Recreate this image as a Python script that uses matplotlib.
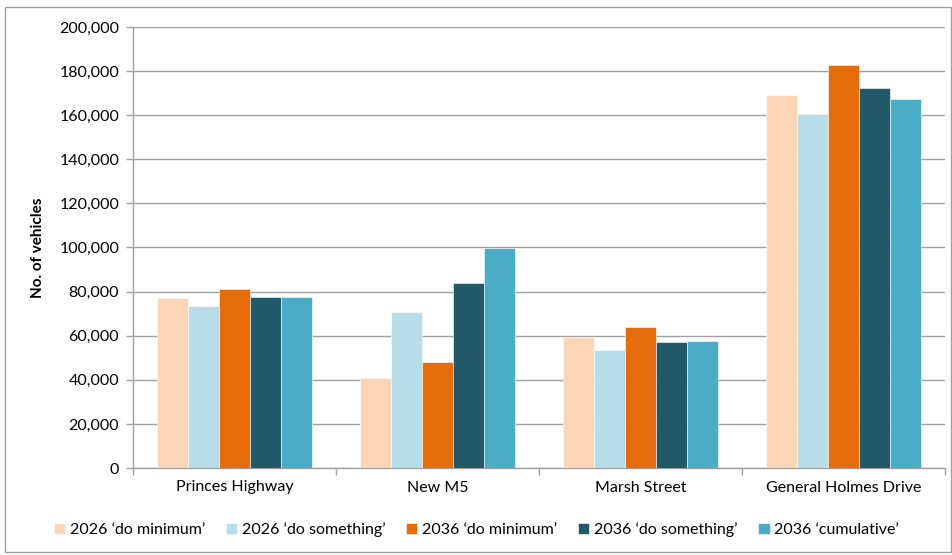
import matplotlib
matplotlib.use("Agg")
import matplotlib.pyplot as plt
import numpy as np
from matplotlib.patches import Rectangle
from matplotlib.ticker import FuncFormatter, MultipleLocator

plt.rcParams['font.family'] = ['Lato', 'DejaVu Sans']

categories = ["Princes Highway", "New M5", "Marsh Street", "General Holmes Drive"]
series_names = ["2026 \u2018do minimum\u2019", "2026 \u2018do something\u2019",
                "2036 \u2018do minimum\u2019", "2036 \u2018do something\u2019",
                "2036 \u2018cumulative\u2019"]
dm_2026 = [77100, 41000, 59400, 169300]
ds_2026 = [73600, 70600, 53500, 160500]
dm_2036 = [81300, 47900, 64100, 182600]
ds_2036 = [77700, 83800, 57100, 172500]
cum_2036 = [77700, 99800, 57700, 167300]
series = [dm_2026, ds_2026, dm_2036, ds_2036, cum_2036]
colors = ["#FBD5B5", "#B7DDE8", "#E46C0A", "#215968", "#4BACC6"]

fig = plt.figure(figsize=(9.53, 5.55), dpi=100)
ax = fig.add_axes([133/953, 1-468/555, (945-133)/953, (468-27)/555])

x = np.arange(len(categories))
bw = 0.153
for i, (vals, c) in enumerate(zip(series, colors)):
    ax.bar(x + (i - 2) * bw, vals, width=bw, color=c, label=series_names[i],
           edgecolor='white', linewidth=0.4, zorder=3)

ax.set_xlim(-0.5, len(categories) - 0.5)
ax.set_ylim(0, 200000)
ax.yaxis.set_major_locator(MultipleLocator(20000))
ax.yaxis.set_major_formatter(FuncFormatter(lambda v, p: f"{int(v):,}"))
ax.grid(axis='y', color='#a0a0a0', linewidth=1.0, zorder=0)
ax.set_xticks(x)
ax.set_xticklabels(categories)
ax.set_xticks(np.arange(-0.5, len(categories), 1), minor=True)
ax.tick_params(axis='x', which='major', length=0, pad=9, labelsize=11.5)
ax.tick_params(axis='x', which='minor', length=5, color='#a0a0a0', width=1)
ax.tick_params(axis='y', length=5, color='#a0a0a0', width=1, pad=5, labelsize=11.5)
for s in ['top', 'right']:
    ax.spines[s].set_visible(False)
for s in ['left', 'bottom']:
    ax.spines[s].set_color('#a0a0a0')
    ax.spines[s].set_linewidth(1)
ax.set_ylabel("No. of vehicles", fontweight='bold', fontsize=11, labelpad=10)

fig.legend(loc='center', bbox_to_anchor=(0.5, 1-530/555), ncol=5, frameon=False,
           fontsize=11.5, handlelength=0.7, handleheight=0.7, handletextpad=0.3,
           columnspacing=1.3)

fig.patches.append(Rectangle((5/953, 3/555), 946/953, 545/555, transform=fig.transFigure,
                             fill=False, edgecolor='#a0a0a0', linewidth=1))

fig.savefig("out.png", dpi=100)
